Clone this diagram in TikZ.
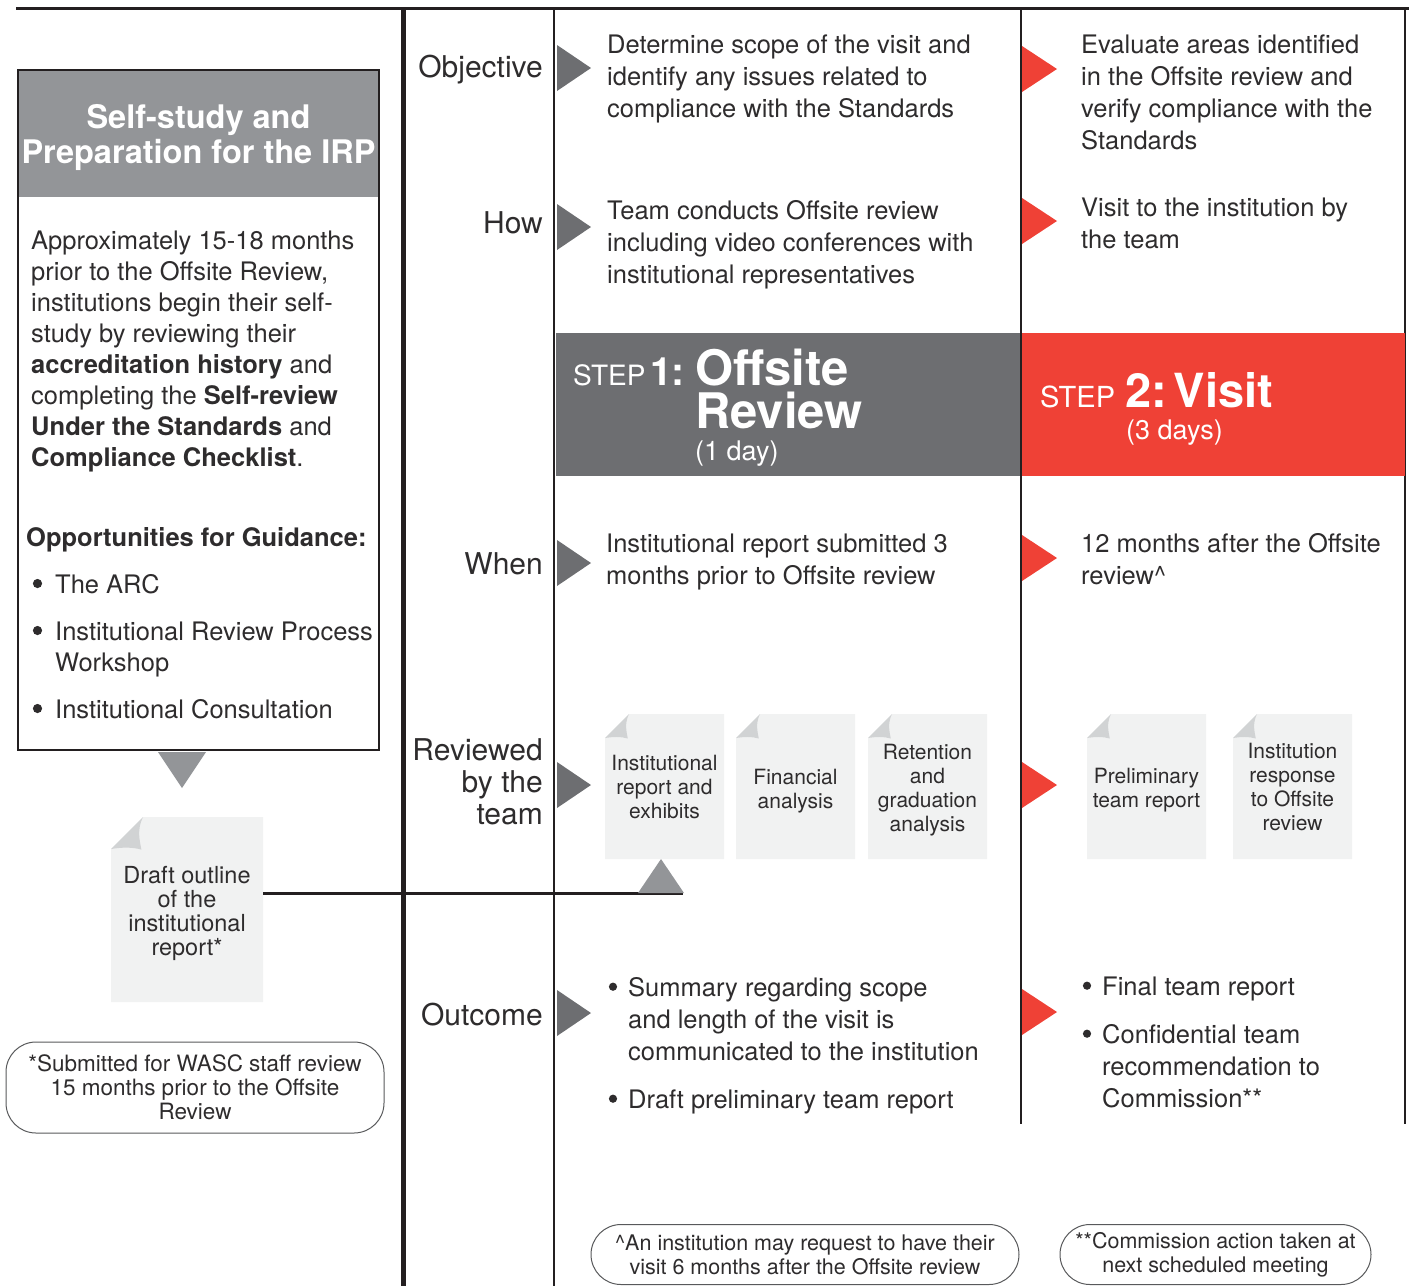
\documentclass[tikz,border=0pt]{standalone}
\usepackage{fontspec}
\setmainfont{TeX Gyre Heros}
\definecolor{ink}{HTML}{231F20}
\definecolor{tcol}{HTML}{2E2C2D}
\definecolor{dgray}{HTML}{6D6E71}
\definecolor{mgray}{HTML}{939598}
\definecolor{docfill}{HTML}{F1F2F2}
\definecolor{curl}{HTML}{D1D3D4}
\definecolor{wred}{HTML}{EF4136}
\definecolor{notegray}{HTML}{58595B}
% name, cx, cy, w, h, fold, font, text, text y-offset
\newcommand\docicon[9]{%
 \begin{scope}[shift={({#2-#4/2},{#3-#5/2})}]
  \fill[docfill] (0,#6) -- (#6,0) -- (#4,0) -- (#4,#5) -- (0,#5) -- cycle;
  \fill[curl] (0,#6) -- (#6,0) .. controls ({0.8*#6},{0.4*#6}) and ({0.9*#6},{0.75*#6}) .. ({0.95*#6},{1.02*#6}) .. controls ({0.65*#6},{0.93*#6}) and ({0.3*#6},{0.95*#6}) .. (0,#6) -- cycle;
 \end{scope}
 \node[doctxt, font=#7, minimum width=#4pt] (#1) at (#2,{#3+#9}) {#8};
}
\begin{document}
\begin{tikzpicture}[x=1pt,y=-1pt,
 txt/.style={inner sep=0pt, text=tcol, align=left, anchor=base west, font=\fontsize{25.5}{32}\selectfont},
 lbl/.style={inner sep=0pt, text=tcol, align=right, anchor=base east, font=\fontsize{30}{32}\selectfont},
 doctxt/.style={inner sep=0pt, align=center, text=tcol},
 note/.style={draw=notegray, line width=1pt, rounded corners=30pt, inner sep=0pt, align=center, text=tcol, font=\fontsize{21.5}{24}\selectfont},
 wtxt/.style={inner sep=0pt, text=white, anchor=base west},
 thinrule/.style={draw=ink, line width=1.2pt},
 bul/.style={fill=tcol},
]
\useasboundingbox (0,0) rectangle (1409,1286);

% frame lines
\draw[ink, line width=3pt] (16,8) -- (1409,8);
\draw[ink, line width=5pt] (403,8) -- (403,1286);
\draw[thinrule] (554,8) -- (554,1286);
\draw[thinrule] (1021,8) -- (1021,1124);
\draw[thinrule] (1405,8) -- (1405,1124);

% left box
\node[fill=mgray, minimum width=361pt, minimum height=127pt, inner sep=0pt] (selfhdr) at (198.5,133.5) {};
\node[inner sep=0pt, align=center, text=white, font=\fontsize{32.5}{35}\selectfont\bfseries] (selftitle) at (198.5,137) {Self-study and\\Preparation for the IRP};
\node[draw=ink, line width=2.5pt, minimum width=361pt, minimum height=680pt, inner sep=0pt] (selfbox) at (198.5,410) {};
\node[txt, font=\fontsize{25.5}{31}\selectfont] (selfbody) at (31,466) {Approximately 15-18 months\\prior to the Offsite Review,\\institutions begin their self-\\study by reviewing their\\\textbf{accreditation history} and\\completing the \textbf{Self-review}\\\textbf{Under the Standards} and\\\textbf{Compliance Checklist}.};
\node[txt, font=\fontsize{25.5}{31}\selectfont\bfseries] (guid) at (26,546) {Opportunities for Guidance:};
\node[txt, font=\fontsize{25.5}{31}\selectfont] (g1) at (55,593) {The ARC};
\node[txt, font=\fontsize{25.5}{31}\selectfont] (g2) at (55,671) {Institutional Review Process\\Workshop};
\node[txt, font=\fontsize{25.5}{31}\selectfont] (g3) at (55,718) {Institutional Consultation};
\foreach \y in {593,640,718} \fill[bul] (37.5,{\y-9.5}) circle (4.6);

% down triangle and draft document
\fill[mgray] (158,752) -- (206,752) -- (182,788) -- cycle;
\docicon{draft}{187}{909.5}{152}{185}{32}{\fontsize{23.5}{24}\selectfont}{Draft outline\\of the\\institutional\\report*}{4}
\coordinate (hl) at (683,893);
\draw[ink, line width=3pt] (draft.east |- hl) -- (hl);
\fill[mgray] (638,893) -- (684,893) -- (661,859) -- cycle;

% row labels
\node[lbl] (lobj) at (543,77) {Objective};
\node[lbl] (lhow) at (543,233) {How};
\node[lbl] (lwhen) at (543,574) {When};
\node[lbl] (lrev) at (543,824) {Reviewed\\by the\\team};
\node[lbl] (lout) at (543,1025) {Outcome};

% arrows
\foreach \y in {68,227,563,785,1013}
  \fill[dgray] (557,{\y-23}) -- (591,\y) -- (557,{\y+23}) -- cycle;
\foreach \y in {69,221,558,785,1012}
  \fill[wred] (1022,{\y-23}) -- (1057,\y) -- (1022,{\y+23}) -- cycle;

% step 1 column
\node[txt] (o1) at (607,117.5) {Determine scope of the visit and\\identify any issues related to\\compliance with the Standards};
\node[txt] (h1) at (607,283.7) {Team conducts Offsite review\\including video conferences with\\institutional representatives};
\node[txt] (w1) at (606,584.7) {Institutional report submitted 3\\months prior to Offsite review};
\node[txt] (u1a) at (628,1060) {Summary regarding scope\\and length of the visit is\\communicated to the institution};
\node[txt] (u1b) at (628,1108) {Draft preliminary team report};
\foreach \y in {996,1108} \fill[bul] (613,{\y-9.3}) circle (4.1);

% step 2 column
\node[txt] (o2) at (1081,149.5) {Evaluate areas identified\\in the Offsite review and\\verify compliance with the\\Standards};
\node[txt] (h2) at (1081,248.7) {Visit to the institution by\\the team};
\node[txt] (w2) at (1081,584.7) {12 months after the Offsite\\review\textasciicircum};
\node[txt] (u2a) at (1102,995) {Final team report};
\node[txt] (u2b) at (1102,1107) {Confidential team\\recommendation to\\Commission**};
\foreach \y in {995,1043} \fill[bul] (1087,{\y-9.3}) circle (4.1);

% step banners
\node[fill=dgray, minimum width=464pt, minimum height=143pt, inner sep=0pt] (step1) at (788,404.5) {};
\node[fill=wred, minimum width=383pt, minimum height=143pt, inner sep=0pt] (step2) at (1213.5,404.5) {};
\node[wtxt, font=\fontsize{28}{30}\selectfont] (s1a) at (573,385) {STEP};
\node[wtxt, font=\fontsize{39}{40}\selectfont\bfseries] (s1b) at (650,385) {1:};
\node[wtxt, align=left, font=\fontsize{49}{43}\selectfont\bfseries] (s1c) at (695,428) {Offsite\\Review};
\node[wtxt, font=\fontsize{27}{30}\selectfont] (s1e) at (695,460) {(1 day)};
\node[wtxt, font=\fontsize{29}{30}\selectfont] (s2a) at (1040,407) {STEP};
\node[wtxt, font=\fontsize{47}{50}\selectfont\bfseries] (s2b) at (1125,407) {2:\hspace{7pt}Visit};
\node[wtxt, font=\fontsize{27}{30}\selectfont] (s2c) at (1126,439) {(3 days)};

% documents reviewed
\docicon{d1}{664.5}{786.5}{119}{145}{24}{\fontsize{21}{24}\selectfont}{Institutional\\report and\\exhibits}{0}
\docicon{d2}{795.5}{786.5}{119}{145}{24}{\fontsize{21}{24}\selectfont}{Financial\\analysis}{5}
\docicon{d3}{927.5}{786.5}{119}{145}{24}{\fontsize{21}{24}\selectfont}{Retention\\and\\graduation\\analysis}{4}
\docicon{d4}{1146.5}{786.5}{119}{145}{24}{\fontsize{21}{24}\selectfont}{Preliminary\\team report}{4}
\docicon{d5}{1292.5}{786.5}{119}{145}{24}{\fontsize{21}{24}\selectfont}{Institution\\response\\to Offsite\\review}{0}

% notes
\node[note, font=\fontsize{22.5}{24}\selectfont, minimum width=378pt, minimum height=91pt] (n1) at (195,1087.5) {*Submitted for WASC staff review\\15 months prior to the Offsite\\Review};
\node[note, minimum width=428pt, minimum height=60pt] (n2) at (805,1254.5) {\textasciicircum An institution may request to have their\\visit 6 months after the Offsite review};
\node[note, minimum width=311pt, minimum height=60pt] (n3) at (1215.5,1254.5) {**Commission action taken at\\next scheduled meeting};
\end{tikzpicture}
\end{document}
